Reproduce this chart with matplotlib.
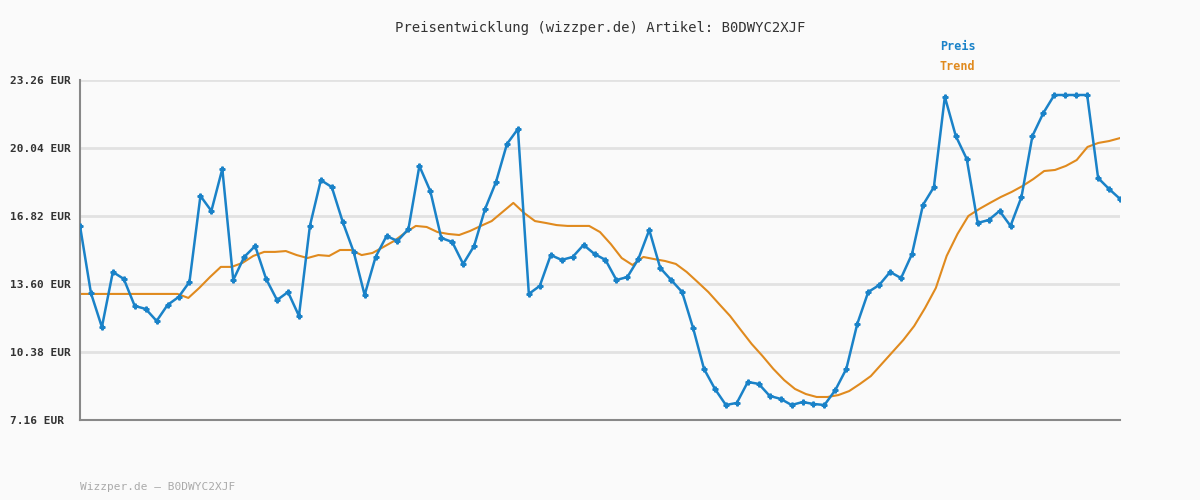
import matplotlib
matplotlib.use("Agg")
import numpy as np
import matplotlib.pyplot as plt

# Preis (blue) and Trend (orange) values, one per point
preis = [
    16.35, 13.17, 11.56, 14.17, 13.84, 12.56, 12.42, 11.85, 12.61, 12.98,
    13.70, 17.77, 17.06, 19.05, 13.79, 14.88, 15.40, 13.84, 12.84, 13.22,
    12.09, 16.35, 18.52, 18.19, 16.54, 15.12, 13.08, 14.88, 15.87, 15.64,
    16.20, 19.19, 18.00, 15.78, 15.59, 14.55, 15.40, 17.15, 18.43, 20.23,
    20.94, 13.13, 13.51, 14.97, 14.74, 14.88, 15.45, 15.02, 14.74, 13.79,
    13.93, 14.78, 16.16, 14.36, 13.79, 13.22, 11.52, 9.58, 8.63, 7.87,
    7.97, 8.96, 8.87, 8.30, 8.16, 7.87, 8.01, 7.92, 7.87, 8.58,
    9.58, 11.71, 13.22, 13.55, 14.17, 13.88, 15.02, 17.34, 18.19, 22.46,
    20.61, 19.52, 16.49, 16.63, 17.06, 16.35, 17.72, 20.61, 21.70, 22.55,
    22.55, 22.55, 22.55, 18.62, 18.10, 17.63,
]
trend = [
    13.13, 13.13, 13.13, 13.13, 13.13, 13.13, 13.13, 13.13, 13.13, 13.13,
    12.94, 13.41, 13.93, 14.41, 14.41, 14.60, 14.93, 15.12, 15.12, 15.16,
    14.97, 14.83, 14.97, 14.93, 15.21, 15.21, 14.97, 15.07, 15.35, 15.64,
    16.02, 16.35, 16.30, 16.06, 15.97, 15.92, 16.11, 16.35, 16.58, 17.01,
    17.44, 16.96, 16.58, 16.49, 16.39, 16.35, 16.35, 16.35, 16.06, 15.49,
    14.83, 14.50, 14.88, 14.78, 14.69, 14.55, 14.17, 13.70, 13.22, 12.65,
    12.09, 11.42, 10.76, 10.19, 9.58, 9.05, 8.63, 8.39, 8.25, 8.25,
    8.34, 8.53, 8.87, 9.24, 9.81, 10.38, 10.95, 11.61, 12.46, 13.41,
    14.93, 15.97, 16.82, 17.15, 17.44, 17.72, 17.96, 18.24, 18.57, 18.95,
    19.00, 19.19, 19.47, 20.09, 20.28, 20.37, 20.51,
]
y_ticks = [7.16, 10.38, 13.60, 16.82, 20.04, 23.26]
y_labels = ["7.16 EUR", "10.38 EUR", "13.60 EUR", "16.82 EUR", "20.04 EUR", "23.26 EUR"]

plt.rcParams["font.family"] = ["DejaVu Sans Mono"]
blue = "#1a82c8"
orange = "#e08a1e"

fig = plt.figure(figsize=(12, 5), dpi=100, facecolor="#fafafa")
ax = fig.add_axes([80 / 1200, 80 / 500, 1040 / 1200, 340 / 500], facecolor="#fafafa")

n = len(preis)
ax.plot(np.linspace(0, n - 1, len(trend)), trend, color=orange, lw=1.5, zorder=2)
ax.plot(range(n), preis, color=blue, lw=1.8, marker="P", ms=3.5, zorder=3)

ax.set_xlim(0, n - 1)
ax.set_ylim(7.16, 23.26)
ax.set_yticks(y_ticks)
ax.set_yticklabels(y_labels, fontsize=8, fontweight="bold", color="#333333", ha="left")
ax.set_xticks([])
ax.tick_params(axis="y", length=0, pad=50.4)
ax.grid(axis="y", color="#e2e2e2", lw=2)
ax.set_axisbelow(True)
for s in ("top", "right"):
    ax.spines[s].set_visible(False)
for s in ("left", "bottom"):
    ax.spines[s].set_color("#888888")
    ax.spines[s].set_linewidth(1.5)

fig.text(0.5, 1 - 28 / 500, "Preisentwicklung (wizzper.de) Artikel: B0DWYC2XJF",
         ha="center", va="center", fontsize=10, color="#333333")
fig.text(940 / 1200, 1 - 47 / 500, "Preis", color=blue, fontsize=8.5,
         fontweight="bold", va="center")
fig.text(940 / 1200, 1 - 67 / 500, "Trend", color=orange, fontsize=8.5,
         fontweight="bold", va="center")
fig.text(80 / 1200, 1 - 487 / 500, "Wizzper.de – B0DWYC2XJF", color="#aaaaaa",
         fontsize=8, va="center")

fig.savefig("out.png", dpi=100, facecolor=fig.get_facecolor())
